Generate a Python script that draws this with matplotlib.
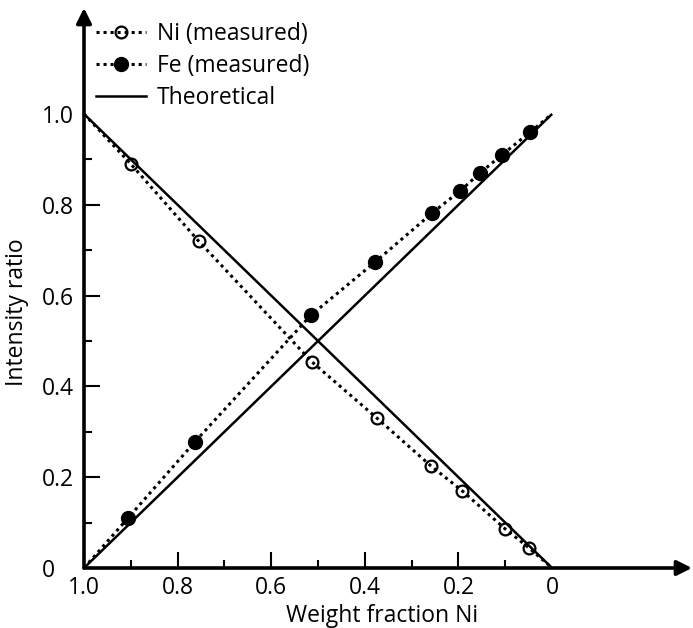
import matplotlib
matplotlib.use("Agg")
import matplotlib.pyplot as plt
from matplotlib.lines import Line2D

plt.rcParams['font.family'] = ['Open Sans', 'DejaVu Sans']

# Data (weight fraction Ni, intensity ratio)
ni_x = [0.90, 0.755, 0.513, 0.374, 0.259, 0.192, 0.10, 0.049]
ni_y = [0.89, 0.72, 0.454, 0.33, 0.225, 0.17, 0.086, 0.044]
fe_x = [0.906, 0.763, 0.515, 0.378, 0.256, 0.197, 0.154, 0.107, 0.047]
fe_y = [0.11, 0.278, 0.557, 0.674, 0.782, 0.830, 0.870, 0.910, 0.960]
# measured curves are joined to the pure-element end points
ni_line_x = [1.0] + ni_x + [0.0]
ni_line_y = [1.0] + ni_y + [0.0]
fe_line_x = [1.0] + fe_x + [0.0]
fe_line_y = [0.0] + fe_y + [1.0]
theo_x = [1.0, 0.0]
theo_ni = [1.0, 0.0]
theo_fe = [0.0, 1.0]

x_major = [1.0, 0.8, 0.6, 0.4, 0.2, 0.0]
x_major_labels = ['1.0', '0.8', '0.6', '0.4', '0.2', '0']
x_minor = [0.9, 0.7, 0.5, 0.3, 0.1]
y_major = [0.0, 0.2, 0.4, 0.6, 0.8, 1.0]
y_major_labels = ['0', '0.2', '0.4', '0.6', '0.8', '1.0']
y_minor = [0.1, 0.3, 0.5, 0.7, 0.9]

FS = 16.5

W, H = 693, 628
fig = plt.figure(figsize=(W / 100, H / 100), dpi=100)
ax = fig.add_axes([84 / W, (H - 568) / H, (692 - 84) / W, (568 - 8) / H])
ax.set_xlim(1.0, -0.299)
ax.set_ylim(0, 1.2335)
for s in ax.spines.values():
    s.set_visible(False)

lw_t = 1.8
ax.plot(theo_x, theo_ni, '-', color='black', lw=lw_t, solid_capstyle='butt', zorder=2)
ax.plot(theo_x, theo_fe, '-', color='black', lw=lw_t, solid_capstyle='butt', zorder=2)
dot = (0, (1, 1.3))
ax.plot(ni_line_x, ni_line_y, color='black', lw=2.2, linestyle=dot, zorder=3)
ax.plot(fe_line_x, fe_line_y, color='black', lw=2.2, linestyle=dot, zorder=3)
ax.plot(ni_x, ni_y, 'o', ms=8.5, mfc='none', mec='black', mew=1.6, zorder=4)
ax.plot(fe_x, fe_y, 'o', ms=10, mfc='black', mec='black', zorder=4)

# axes with arrows
arrow_kw = dict(arrowstyle='-|>,head_length=0.6,head_width=0.3', lw=2.6,
                color='black', shrinkA=0, shrinkB=0, mutation_scale=15)
ax.annotate('', xy=(1, 0), xytext=(0, 0), xycoords='axes fraction',
            textcoords='axes fraction', arrowprops=arrow_kw, zorder=5)
ax.annotate('', xy=(0, 1), xytext=(0, 0), xycoords='axes fraction',
            textcoords='axes fraction', arrowprops=arrow_kw, zorder=5)

ax.set_xticks(x_major)
ax.set_xticklabels(x_major_labels)
ax.set_xticks(x_minor, minor=True)
ax.set_yticks(y_major)
ax.set_yticklabels(y_major_labels)
ax.set_yticks(y_minor, minor=True)
ax.tick_params(which='major', direction='in', length=11.5, width=1.5,
               labelsize=FS, pad=6)
ax.tick_params(which='minor', direction='in', length=5.8, width=1.5)
# y tick labels are left-aligned in the reference
ax.tick_params(axis='y', which='major', pad=30)
for lab in ax.get_yticklabels():
    lab.set_horizontalalignment('left')
ax.yaxis.get_major_ticks()[-1].tick1line.set_visible(False)
ax.xaxis.get_major_ticks()[-1].tick1line.set_visible(False)

fig.text(382 / W, 1 - 622 / H, 'Weight fraction Ni', ha='center', va='baseline', fontsize=FS)
fig.text(17 / W, 1 - 386 / H, 'Intensity ratio', ha='center', va='bottom',
         rotation=90, fontsize=FS)

handles = [
    Line2D([], [], color='black', lw=2.2, linestyle=dot, marker='o', ms=8.5,
           mfc='none', mec='black', mew=1.6),
    Line2D([], [], color='black', lw=2.2, linestyle=dot, marker='o', ms=10,
           mfc='black', mec='black'),
    Line2D([], [], color='black', lw=lw_t),
]
labels = ['Ni (measured)', 'Fe (measured)', 'Theoretical']
fig.legend(handles, labels, loc='upper left', bbox_to_anchor=(96 / W, 1 - 22 / H),
           frameon=False, fontsize=FS, handlelength=2.2, handletextpad=0.45,
           labelspacing=0.36, borderpad=0, borderaxespad=0)

fig.savefig('out.png', dpi=100)
